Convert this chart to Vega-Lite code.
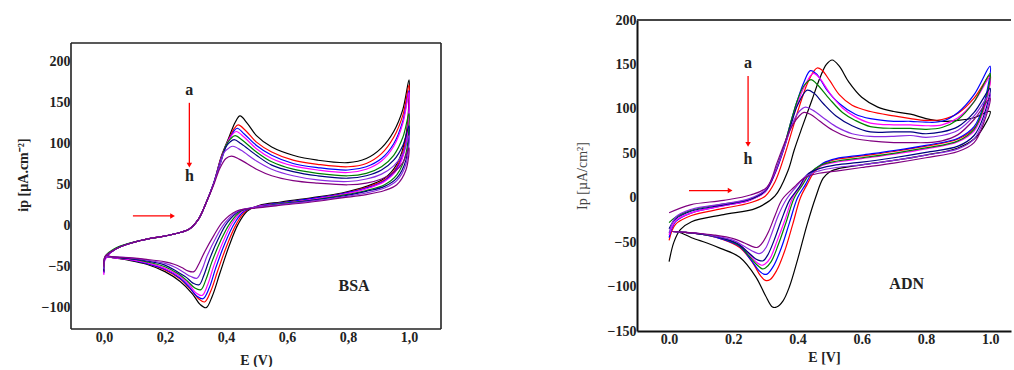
{
"$schema":"https://vega.github.io/schema/vega-lite/v6.json",
"padding":{"left":16,"top":13,"right":0,"bottom":0},
"background":"white",
"config":{"view":{"stroke":null},"font":"Liberation Serif",
"axis":{"labelFont":"Liberation Serif","labelFontWeight":"bold","labelFontSize":14,"labelColor":"#222","titleFont":"Liberation Serif","titleFontWeight":"bold","titleFontSize":14,"titleColor":"#222","grid":false,"ticks":false,"tickSize":0}},
"spacing":133,
"datasets":{
"bsa":[
{"c":"a","i":0,"x":0,"y":-57},{"c":"a","i":1,"x":0.003,"y":-40},{"c":"a","i":2,"x":0.04,"y":-28},{"c":"a","i":3,"x":0.12,"y":-18},{"c":"a","i":4,"x":0.22,"y":-11},{"c":"a","i":5,"x":0.28,"y":-4},{"c":"a","i":6,"x":0.31,"y":8},{"c":"a","i":7,"x":0.335,"y":28},{"c":"a","i":8,"x":0.36,"y":52},{"c":"a","i":9,"x":0.385,"y":85},{"c":"a","i":10,"x":0.41,"y":108},{"c":"a","i":11,"x":0.43,"y":126},{"c":"a","i":12,"x":0.446,"y":134},{"c":"a","i":13,"x":0.47,"y":125},{"c":"a","i":14,"x":0.5,"y":110},{"c":"a","i":15,"x":0.55,"y":96},{"c":"a","i":16,"x":0.62,"y":86},{"c":"a","i":17,"x":0.7,"y":80},{"c":"a","i":18,"x":0.8,"y":77},{"c":"a","i":19,"x":0.86,"y":82},{"c":"a","i":20,"x":0.91,"y":95},{"c":"a","i":21,"x":0.95,"y":115},{"c":"a","i":22,"x":0.98,"y":142},{"c":"a","i":23,"x":1.0,"y":178},{"c":"a","i":24,"x":0.99,"y":110},{"c":"a","i":25,"x":0.96,"y":75},{"c":"a","i":26,"x":0.92,"y":58},{"c":"a","i":27,"x":0.86,"y":48},{"c":"a","i":28,"x":0.78,"y":40},{"c":"a","i":29,"x":0.68,"y":34},{"c":"a","i":30,"x":0.58,"y":29},{"c":"a","i":31,"x":0.51,"y":25},{"c":"a","i":32,"x":0.47,"y":18},{"c":"a","i":33,"x":0.44,"y":2},{"c":"a","i":34,"x":0.41,"y":-25},{"c":"a","i":35,"x":0.38,"y":-58},{"c":"a","i":36,"x":0.355,"y":-86},{"c":"a","i":37,"x":0.335,"y":-100},{"c":"a","i":38,"x":0.315,"y":-96},{"c":"a","i":39,"x":0.29,"y":-83},{"c":"a","i":40,"x":0.25,"y":-68},{"c":"a","i":41,"x":0.2,"y":-56},{"c":"a","i":42,"x":0.14,"y":-47},{"c":"a","i":43,"x":0.08,"y":-42},{"c":"a","i":44,"x":0.03,"y":-39},{"c":"a","i":45,"x":0.005,"y":-37},
{"c":"b","i":0,"x":0,"y":-55},{"c":"b","i":1,"x":0.003,"y":-40},{"c":"b","i":2,"x":0.04,"y":-28},{"c":"b","i":3,"x":0.12,"y":-18},{"c":"b","i":4,"x":0.22,"y":-11},{"c":"b","i":5,"x":0.28,"y":-4},{"c":"b","i":6,"x":0.31,"y":8},{"c":"b","i":7,"x":0.335,"y":28},{"c":"b","i":8,"x":0.36,"y":52},{"c":"b","i":9,"x":0.385,"y":84},{"c":"b","i":10,"x":0.41,"y":106},{"c":"b","i":11,"x":0.428,"y":119},{"c":"b","i":12,"x":0.44,"y":123},{"c":"b","i":13,"x":0.465,"y":116},{"c":"b","i":14,"x":0.5,"y":102},{"c":"b","i":15,"x":0.55,"y":90},{"c":"b","i":16,"x":0.62,"y":80},{"c":"b","i":17,"x":0.7,"y":75},{"c":"b","i":18,"x":0.8,"y":72},{"c":"b","i":19,"x":0.86,"y":76},{"c":"b","i":20,"x":0.91,"y":88},{"c":"b","i":21,"x":0.95,"y":108},{"c":"b","i":22,"x":0.98,"y":135},{"c":"b","i":23,"x":1.0,"y":172},{"c":"b","i":24,"x":0.99,"y":106},{"c":"b","i":25,"x":0.96,"y":72},{"c":"b","i":26,"x":0.92,"y":56},{"c":"b","i":27,"x":0.86,"y":47},{"c":"b","i":28,"x":0.78,"y":39},{"c":"b","i":29,"x":0.68,"y":33},{"c":"b","i":30,"x":0.58,"y":28},{"c":"b","i":31,"x":0.51,"y":24},{"c":"b","i":32,"x":0.465,"y":18},{"c":"b","i":33,"x":0.434,"y":2},{"c":"b","i":34,"x":0.403,"y":-24},{"c":"b","i":35,"x":0.373,"y":-55},{"c":"b","i":36,"x":0.35,"y":-80},{"c":"b","i":37,"x":0.33,"y":-93},{"c":"b","i":38,"x":0.31,"y":-89},{"c":"b","i":39,"x":0.285,"y":-78},{"c":"b","i":40,"x":0.25,"y":-65},{"c":"b","i":41,"x":0.2,"y":-54},{"c":"b","i":42,"x":0.14,"y":-46},{"c":"b","i":43,"x":0.08,"y":-41},{"c":"b","i":44,"x":0.03,"y":-39},{"c":"b","i":45,"x":0.005,"y":-37},
{"c":"c","i":0,"x":0,"y":-58},{"c":"c","i":1,"x":0.003,"y":-41},{"c":"c","i":2,"x":0.04,"y":-28},{"c":"c","i":3,"x":0.12,"y":-18},{"c":"c","i":4,"x":0.22,"y":-11},{"c":"c","i":5,"x":0.28,"y":-4},{"c":"c","i":6,"x":0.31,"y":8},{"c":"c","i":7,"x":0.335,"y":28},{"c":"c","i":8,"x":0.36,"y":52},{"c":"c","i":9,"x":0.385,"y":83},{"c":"c","i":10,"x":0.41,"y":105},{"c":"c","i":11,"x":0.425,"y":115},{"c":"c","i":12,"x":0.437,"y":119},{"c":"c","i":13,"x":0.46,"y":112},{"c":"c","i":14,"x":0.5,"y":98},{"c":"c","i":15,"x":0.55,"y":86},{"c":"c","i":16,"x":0.62,"y":76},{"c":"c","i":17,"x":0.7,"y":71},{"c":"c","i":18,"x":0.8,"y":68},{"c":"c","i":19,"x":0.86,"y":72},{"c":"c","i":20,"x":0.91,"y":82},{"c":"c","i":21,"x":0.95,"y":100},{"c":"c","i":22,"x":0.98,"y":128},{"c":"c","i":23,"x":1.0,"y":165},{"c":"c","i":24,"x":0.99,"y":100},{"c":"c","i":25,"x":0.96,"y":70},{"c":"c","i":26,"x":0.92,"y":55},{"c":"c","i":27,"x":0.86,"y":46},{"c":"c","i":28,"x":0.78,"y":39},{"c":"c","i":29,"x":0.68,"y":33},{"c":"c","i":30,"x":0.58,"y":28},{"c":"c","i":31,"x":0.51,"y":24},{"c":"c","i":32,"x":0.46,"y":18},{"c":"c","i":33,"x":0.428,"y":3},{"c":"c","i":34,"x":0.396,"y":-22},{"c":"c","i":35,"x":0.366,"y":-52},{"c":"c","i":36,"x":0.345,"y":-76},{"c":"c","i":37,"x":0.325,"y":-89},{"c":"c","i":38,"x":0.305,"y":-86},{"c":"c","i":39,"x":0.28,"y":-75},{"c":"c","i":40,"x":0.25,"y":-64},{"c":"c","i":41,"x":0.2,"y":-53},{"c":"c","i":42,"x":0.14,"y":-46},{"c":"c","i":43,"x":0.08,"y":-41},{"c":"c","i":44,"x":0.03,"y":-39},{"c":"c","i":45,"x":0.005,"y":-37},
{"c":"d","i":0,"x":0,"y":-60},{"c":"d","i":1,"x":0.003,"y":-42},{"c":"d","i":2,"x":0.04,"y":-28},{"c":"d","i":3,"x":0.12,"y":-18},{"c":"d","i":4,"x":0.22,"y":-11},{"c":"d","i":5,"x":0.28,"y":-4},{"c":"d","i":6,"x":0.31,"y":8},{"c":"d","i":7,"x":0.335,"y":28},{"c":"d","i":8,"x":0.36,"y":52},{"c":"d","i":9,"x":0.385,"y":82},{"c":"d","i":10,"x":0.405,"y":102},{"c":"d","i":11,"x":0.42,"y":111},{"c":"d","i":12,"x":0.434,"y":115},{"c":"d","i":13,"x":0.46,"y":108},{"c":"d","i":14,"x":0.5,"y":94},{"c":"d","i":15,"x":0.55,"y":82},{"c":"d","i":16,"x":0.62,"y":73},{"c":"d","i":17,"x":0.7,"y":68},{"c":"d","i":18,"x":0.8,"y":65},{"c":"d","i":19,"x":0.86,"y":69},{"c":"d","i":20,"x":0.91,"y":79},{"c":"d","i":21,"x":0.95,"y":97},{"c":"d","i":22,"x":0.98,"y":125},{"c":"d","i":23,"x":1.0,"y":163},{"c":"d","i":24,"x":0.99,"y":98},{"c":"d","i":25,"x":0.96,"y":68},{"c":"d","i":26,"x":0.92,"y":54},{"c":"d","i":27,"x":0.86,"y":45},{"c":"d","i":28,"x":0.78,"y":38},{"c":"d","i":29,"x":0.68,"y":32},{"c":"d","i":30,"x":0.58,"y":27},{"c":"d","i":31,"x":0.51,"y":24},{"c":"d","i":32,"x":0.455,"y":18},{"c":"d","i":33,"x":0.42,"y":3},{"c":"d","i":34,"x":0.39,"y":-20},{"c":"d","i":35,"x":0.36,"y":-49},{"c":"d","i":36,"x":0.34,"y":-72},{"c":"d","i":37,"x":0.322,"y":-85},{"c":"d","i":38,"x":0.302,"y":-82},{"c":"d","i":39,"x":0.28,"y":-72},{"c":"d","i":40,"x":0.25,"y":-62},{"c":"d","i":41,"x":0.2,"y":-52},{"c":"d","i":42,"x":0.14,"y":-45},{"c":"d","i":43,"x":0.08,"y":-41},{"c":"d","i":44,"x":0.03,"y":-39},{"c":"d","i":45,"x":0.005,"y":-37},
{"c":"e","i":0,"x":0,"y":-52},{"c":"e","i":1,"x":0.003,"y":-38},{"c":"e","i":2,"x":0.04,"y":-27},{"c":"e","i":3,"x":0.12,"y":-18},{"c":"e","i":4,"x":0.22,"y":-11},{"c":"e","i":5,"x":0.28,"y":-4},{"c":"e","i":6,"x":0.31,"y":8},{"c":"e","i":7,"x":0.335,"y":28},{"c":"e","i":8,"x":0.36,"y":52},{"c":"e","i":9,"x":0.385,"y":81},{"c":"e","i":10,"x":0.4,"y":98},{"c":"e","i":11,"x":0.415,"y":106},{"c":"e","i":12,"x":0.43,"y":110},{"c":"e","i":13,"x":0.455,"y":104},{"c":"e","i":14,"x":0.5,"y":90},{"c":"e","i":15,"x":0.55,"y":78},{"c":"e","i":16,"x":0.62,"y":69},{"c":"e","i":17,"x":0.7,"y":64},{"c":"e","i":18,"x":0.8,"y":61},{"c":"e","i":19,"x":0.86,"y":64},{"c":"e","i":20,"x":0.91,"y":72},{"c":"e","i":21,"x":0.95,"y":86},{"c":"e","i":22,"x":0.98,"y":108},{"c":"e","i":23,"x":1.0,"y":137},{"c":"e","i":24,"x":0.99,"y":88},{"c":"e","i":25,"x":0.96,"y":62},{"c":"e","i":26,"x":0.92,"y":50},{"c":"e","i":27,"x":0.86,"y":43},{"c":"e","i":28,"x":0.78,"y":37},{"c":"e","i":29,"x":0.68,"y":31},{"c":"e","i":30,"x":0.58,"y":27},{"c":"e","i":31,"x":0.51,"y":23},{"c":"e","i":32,"x":0.45,"y":18},{"c":"e","i":33,"x":0.413,"y":3},{"c":"e","i":34,"x":0.383,"y":-18},{"c":"e","i":35,"x":0.353,"y":-45},{"c":"e","i":36,"x":0.335,"y":-65},{"c":"e","i":37,"x":0.318,"y":-78},{"c":"e","i":38,"x":0.298,"y":-76},{"c":"e","i":39,"x":0.275,"y":-68},{"c":"e","i":40,"x":0.245,"y":-59},{"c":"e","i":41,"x":0.2,"y":-50},{"c":"e","i":42,"x":0.14,"y":-44},{"c":"e","i":43,"x":0.08,"y":-40},{"c":"e","i":44,"x":0.03,"y":-38},{"c":"e","i":45,"x":0.005,"y":-37},
{"c":"f","i":0,"x":0,"y":-56},{"c":"f","i":1,"x":0.003,"y":-40},{"c":"f","i":2,"x":0.04,"y":-28},{"c":"f","i":3,"x":0.12,"y":-18},{"c":"f","i":4,"x":0.22,"y":-11},{"c":"f","i":5,"x":0.28,"y":-4},{"c":"f","i":6,"x":0.31,"y":8},{"c":"f","i":7,"x":0.335,"y":28},{"c":"f","i":8,"x":0.36,"y":52},{"c":"f","i":9,"x":0.385,"y":80},{"c":"f","i":10,"x":0.4,"y":96},{"c":"f","i":11,"x":0.413,"y":102},{"c":"f","i":12,"x":0.427,"y":105},{"c":"f","i":13,"x":0.45,"y":100},{"c":"f","i":14,"x":0.5,"y":86},{"c":"f","i":15,"x":0.55,"y":74},{"c":"f","i":16,"x":0.62,"y":66},{"c":"f","i":17,"x":0.7,"y":61},{"c":"f","i":18,"x":0.8,"y":58},{"c":"f","i":19,"x":0.86,"y":61},{"c":"f","i":20,"x":0.91,"y":68},{"c":"f","i":21,"x":0.95,"y":80},{"c":"f","i":22,"x":0.98,"y":98},{"c":"f","i":23,"x":1.0,"y":122},{"c":"f","i":24,"x":0.99,"y":80},{"c":"f","i":25,"x":0.96,"y":58},{"c":"f","i":26,"x":0.92,"y":48},{"c":"f","i":27,"x":0.86,"y":42},{"c":"f","i":28,"x":0.78,"y":36},{"c":"f","i":29,"x":0.68,"y":31},{"c":"f","i":30,"x":0.58,"y":26},{"c":"f","i":31,"x":0.51,"y":23},{"c":"f","i":32,"x":0.445,"y":18},{"c":"f","i":33,"x":0.405,"y":4},{"c":"f","i":34,"x":0.375,"y":-16},{"c":"f","i":35,"x":0.345,"y":-42},{"c":"f","i":36,"x":0.328,"y":-60},{"c":"f","i":37,"x":0.312,"y":-72},{"c":"f","i":38,"x":0.292,"y":-70},{"c":"f","i":39,"x":0.27,"y":-63},{"c":"f","i":40,"x":0.24,"y":-56},{"c":"f","i":41,"x":0.2,"y":-48},{"c":"f","i":42,"x":0.14,"y":-43},{"c":"f","i":43,"x":0.08,"y":-40},{"c":"f","i":44,"x":0.03,"y":-38},{"c":"f","i":45,"x":0.005,"y":-37},
{"c":"g","i":0,"x":0,"y":-53},{"c":"g","i":1,"x":0.003,"y":-39},{"c":"g","i":2,"x":0.04,"y":-28},{"c":"g","i":3,"x":0.12,"y":-18},{"c":"g","i":4,"x":0.22,"y":-11},{"c":"g","i":5,"x":0.28,"y":-4},{"c":"g","i":6,"x":0.31,"y":8},{"c":"g","i":7,"x":0.335,"y":28},{"c":"g","i":8,"x":0.36,"y":52},{"c":"g","i":9,"x":0.38,"y":74},{"c":"g","i":10,"x":0.395,"y":90},{"c":"g","i":11,"x":0.41,"y":95},{"c":"g","i":12,"x":0.423,"y":97},{"c":"g","i":13,"x":0.45,"y":92},{"c":"g","i":14,"x":0.5,"y":79},{"c":"g","i":15,"x":0.55,"y":69},{"c":"g","i":16,"x":0.62,"y":61},{"c":"g","i":17,"x":0.7,"y":56},{"c":"g","i":18,"x":0.8,"y":54},{"c":"g","i":19,"x":0.86,"y":57},{"c":"g","i":20,"x":0.91,"y":63},{"c":"g","i":21,"x":0.95,"y":73},{"c":"g","i":22,"x":0.98,"y":88},{"c":"g","i":23,"x":1.0,"y":110},{"c":"g","i":24,"x":0.99,"y":75},{"c":"g","i":25,"x":0.96,"y":55},{"c":"g","i":26,"x":0.92,"y":46},{"c":"g","i":27,"x":0.86,"y":40},{"c":"g","i":28,"x":0.78,"y":35},{"c":"g","i":29,"x":0.68,"y":30},{"c":"g","i":30,"x":0.58,"y":26},{"c":"g","i":31,"x":0.51,"y":23},{"c":"g","i":32,"x":0.44,"y":18},{"c":"g","i":33,"x":0.398,"y":4},{"c":"g","i":34,"x":0.368,"y":-14},{"c":"g","i":35,"x":0.338,"y":-37},{"c":"g","i":36,"x":0.322,"y":-53},{"c":"g","i":37,"x":0.305,"y":-64},{"c":"g","i":38,"x":0.285,"y":-62},{"c":"g","i":39,"x":0.262,"y":-57},{"c":"g","i":40,"x":0.235,"y":-51},{"c":"g","i":41,"x":0.2,"y":-46},{"c":"g","i":42,"x":0.14,"y":-42},{"c":"g","i":43,"x":0.08,"y":-39},{"c":"g","i":44,"x":0.03,"y":-38},{"c":"g","i":45,"x":0.005,"y":-37},
{"c":"h","i":0,"x":0,"y":-50},{"c":"h","i":1,"x":0.003,"y":-38},{"c":"h","i":2,"x":0.04,"y":-28},{"c":"h","i":3,"x":0.12,"y":-18},{"c":"h","i":4,"x":0.22,"y":-11},{"c":"h","i":5,"x":0.28,"y":-4},{"c":"h","i":6,"x":0.31,"y":8},{"c":"h","i":7,"x":0.335,"y":28},{"c":"h","i":8,"x":0.36,"y":50},{"c":"h","i":9,"x":0.38,"y":70},{"c":"h","i":10,"x":0.4,"y":82},{"c":"h","i":11,"x":0.418,"y":85},{"c":"h","i":12,"x":0.445,"y":81},{"c":"h","i":13,"x":0.5,"y":69},{"c":"h","i":14,"x":0.55,"y":61},{"c":"h","i":15,"x":0.62,"y":55},{"c":"h","i":16,"x":0.7,"y":52},{"c":"h","i":17,"x":0.8,"y":50},{"c":"h","i":18,"x":0.86,"y":52},{"c":"h","i":19,"x":0.91,"y":57},{"c":"h","i":20,"x":0.95,"y":65},{"c":"h","i":21,"x":0.98,"y":77},{"c":"h","i":22,"x":1.0,"y":95},{"c":"h","i":23,"x":0.99,"y":68},{"c":"h","i":24,"x":0.96,"y":50},{"c":"h","i":25,"x":0.92,"y":43},{"c":"h","i":26,"x":0.86,"y":38},{"c":"h","i":27,"x":0.78,"y":34},{"c":"h","i":28,"x":0.68,"y":29},{"c":"h","i":29,"x":0.58,"y":25},{"c":"h","i":30,"x":0.51,"y":22},{"c":"h","i":31,"x":0.435,"y":18},{"c":"h","i":32,"x":0.39,"y":5},{"c":"h","i":33,"x":0.36,"y":-12},{"c":"h","i":34,"x":0.33,"y":-32},{"c":"h","i":35,"x":0.312,"y":-46},{"c":"h","i":36,"x":0.295,"y":-56},{"c":"h","i":37,"x":0.275,"y":-55},{"c":"h","i":38,"x":0.255,"y":-51},{"c":"h","i":39,"x":0.23,"y":-47},{"c":"h","i":40,"x":0.2,"y":-44},{"c":"h","i":41,"x":0.14,"y":-41},{"c":"h","i":42,"x":0.08,"y":-39},{"c":"h","i":43,"x":0.03,"y":-38},{"c":"h","i":44,"x":0.005,"y":-36}
],
"adn":[
{"c":"a","i":0,"x":0,"y":-72},{"c":"a","i":1,"x":0.015,"y":-50},{"c":"a","i":2,"x":0.035,"y":-36},{"c":"a","i":3,"x":0.07,"y":-27},{"c":"a","i":4,"x":0.17,"y":-19},{"c":"a","i":5,"x":0.27,"y":-12},{"c":"a","i":6,"x":0.33,"y":2},{"c":"a","i":7,"x":0.37,"y":30},{"c":"a","i":8,"x":0.39,"y":54},{"c":"a","i":9,"x":0.415,"y":80},{"c":"a","i":10,"x":0.445,"y":110},{"c":"a","i":11,"x":0.47,"y":135},{"c":"a","i":12,"x":0.49,"y":150},{"c":"a","i":13,"x":0.508,"y":155},{"c":"a","i":14,"x":0.53,"y":148},{"c":"a","i":15,"x":0.56,"y":130},{"c":"a","i":16,"x":0.6,"y":113},{"c":"a","i":17,"x":0.65,"y":102},{"c":"a","i":18,"x":0.7,"y":97},{"c":"a","i":19,"x":0.752,"y":94},{"c":"a","i":20,"x":0.8,"y":89},{"c":"a","i":21,"x":0.85,"y":86},{"c":"a","i":22,"x":0.9,"y":87},{"c":"a","i":23,"x":0.95,"y":90},{"c":"a","i":24,"x":1.0,"y":97},{"c":"a","i":25,"x":0.98,"y":80},{"c":"a","i":26,"x":0.95,"y":66},{"c":"a","i":27,"x":0.9,"y":56},{"c":"a","i":28,"x":0.8,"y":48},{"c":"a","i":29,"x":0.7,"y":42},{"c":"a","i":30,"x":0.6,"y":37},{"c":"a","i":31,"x":0.53,"y":33},{"c":"a","i":32,"x":0.5,"y":29},{"c":"a","i":33,"x":0.48,"y":22},{"c":"a","i":34,"x":0.456,"y":0},{"c":"a","i":35,"x":0.43,"y":-30},{"c":"a","i":36,"x":0.4,"y":-70},{"c":"a","i":37,"x":0.375,"y":-100},{"c":"a","i":38,"x":0.355,"y":-116},{"c":"a","i":39,"x":0.335,"y":-123},{"c":"a","i":40,"x":0.322,"y":-123},{"c":"a","i":41,"x":0.3,"y":-110},{"c":"a","i":42,"x":0.27,"y":-89},{"c":"a","i":43,"x":0.22,"y":-67},{"c":"a","i":44,"x":0.16,"y":-57},{"c":"a","i":45,"x":0.118,"y":-51},{"c":"a","i":46,"x":0.07,"y":-45},{"c":"a","i":47,"x":0.04,"y":-40},{"c":"a","i":48,"x":0.025,"y":-38},
{"c":"b","i":0,"x":0,"y":-48},{"c":"b","i":1,"x":0.02,"y":-30},{"c":"b","i":2,"x":0.07,"y":-20},{"c":"b","i":3,"x":0.17,"y":-12},{"c":"b","i":4,"x":0.25,"y":-6},{"c":"b","i":5,"x":0.3,"y":2},{"c":"b","i":6,"x":0.33,"y":18},{"c":"b","i":7,"x":0.36,"y":48},{"c":"b","i":8,"x":0.385,"y":78},{"c":"b","i":9,"x":0.405,"y":102},{"c":"b","i":10,"x":0.43,"y":128},{"c":"b","i":11,"x":0.45,"y":142},{"c":"b","i":12,"x":0.461,"y":146},{"c":"b","i":13,"x":0.475,"y":144},{"c":"b","i":14,"x":0.5,"y":132},{"c":"b","i":15,"x":0.53,"y":116},{"c":"b","i":16,"x":0.57,"y":104},{"c":"b","i":17,"x":0.627,"y":97},{"c":"b","i":18,"x":0.7,"y":92},{"c":"b","i":19,"x":0.752,"y":89},{"c":"b","i":20,"x":0.8,"y":87},{"c":"b","i":21,"x":0.85,"y":88},{"c":"b","i":22,"x":0.9,"y":95},{"c":"b","i":23,"x":0.95,"y":112},{"c":"b","i":24,"x":1.0,"y":138},{"c":"b","i":25,"x":0.98,"y":100},{"c":"b","i":26,"x":0.95,"y":78},{"c":"b","i":27,"x":0.9,"y":66},{"c":"b","i":28,"x":0.8,"y":58},{"c":"b","i":29,"x":0.7,"y":52},{"c":"b","i":30,"x":0.6,"y":47},{"c":"b","i":31,"x":0.52,"y":43},{"c":"b","i":32,"x":0.48,"y":38},{"c":"b","i":33,"x":0.45,"y":28},{"c":"b","i":34,"x":0.43,"y":15},{"c":"b","i":35,"x":0.409,"y":0},{"c":"b","i":36,"x":0.385,"y":-30},{"c":"b","i":37,"x":0.36,"y":-60},{"c":"b","i":38,"x":0.335,"y":-82},{"c":"b","i":39,"x":0.315,"y":-92},{"c":"b","i":40,"x":0.3,"y":-93},{"c":"b","i":41,"x":0.285,"y":-88},{"c":"b","i":42,"x":0.26,"y":-73},{"c":"b","i":43,"x":0.22,"y":-56},{"c":"b","i":44,"x":0.16,"y":-46},{"c":"b","i":45,"x":0.1,"y":-41},{"c":"b","i":46,"x":0.05,"y":-39},{"c":"b","i":47,"x":0.01,"y":-38},
{"c":"c","i":0,"x":0,"y":-45},{"c":"c","i":1,"x":0.02,"y":-27},{"c":"c","i":2,"x":0.07,"y":-17},{"c":"c","i":3,"x":0.17,"y":-9},{"c":"c","i":4,"x":0.25,"y":-3},{"c":"c","i":5,"x":0.3,"y":7},{"c":"c","i":6,"x":0.33,"y":28},{"c":"c","i":7,"x":0.36,"y":60},{"c":"c","i":8,"x":0.383,"y":90},{"c":"c","i":9,"x":0.4,"y":110},{"c":"c","i":10,"x":0.42,"y":130},{"c":"c","i":11,"x":0.44,"y":143},{"c":"c","i":12,"x":0.46,"y":139},{"c":"c","i":13,"x":0.49,"y":122},{"c":"c","i":14,"x":0.53,"y":106},{"c":"c","i":15,"x":0.58,"y":94},{"c":"c","i":16,"x":0.627,"y":89},{"c":"c","i":17,"x":0.7,"y":86},{"c":"c","i":18,"x":0.752,"y":86},{"c":"c","i":19,"x":0.8,"y":85},{"c":"c","i":20,"x":0.85,"y":86},{"c":"c","i":21,"x":0.9,"y":96},{"c":"c","i":22,"x":0.95,"y":116},{"c":"c","i":23,"x":1.0,"y":148},{"c":"c","i":24,"x":0.98,"y":105},{"c":"c","i":25,"x":0.95,"y":80},{"c":"c","i":26,"x":0.9,"y":67},{"c":"c","i":27,"x":0.8,"y":59},{"c":"c","i":28,"x":0.7,"y":53},{"c":"c","i":29,"x":0.6,"y":48},{"c":"c","i":30,"x":0.52,"y":44},{"c":"c","i":31,"x":0.48,"y":39},{"c":"c","i":32,"x":0.445,"y":28},{"c":"c","i":33,"x":0.425,"y":15},{"c":"c","i":34,"x":0.4,"y":0},{"c":"c","i":35,"x":0.375,"y":-28},{"c":"c","i":36,"x":0.35,"y":-56},{"c":"c","i":37,"x":0.325,"y":-77},{"c":"c","i":38,"x":0.305,"y":-86},{"c":"c","i":39,"x":0.295,"y":-86},{"c":"c","i":40,"x":0.28,"y":-82},{"c":"c","i":41,"x":0.255,"y":-70},{"c":"c","i":42,"x":0.22,"y":-55},{"c":"c","i":43,"x":0.16,"y":-46},{"c":"c","i":44,"x":0.1,"y":-41},{"c":"c","i":45,"x":0.05,"y":-39},{"c":"c","i":46,"x":0.01,"y":-38},
{"c":"d","i":0,"x":0,"y":-42},{"c":"d","i":1,"x":0.02,"y":-26},{"c":"d","i":2,"x":0.07,"y":-17},{"c":"d","i":3,"x":0.17,"y":-9},{"c":"d","i":4,"x":0.25,"y":-3},{"c":"d","i":5,"x":0.3,"y":7},{"c":"d","i":6,"x":0.33,"y":27},{"c":"d","i":7,"x":0.36,"y":58},{"c":"d","i":8,"x":0.383,"y":88},{"c":"d","i":9,"x":0.4,"y":106},{"c":"d","i":10,"x":0.42,"y":124},{"c":"d","i":11,"x":0.449,"y":140},{"c":"d","i":12,"x":0.47,"y":134},{"c":"d","i":13,"x":0.5,"y":118},{"c":"d","i":14,"x":0.54,"y":101},{"c":"d","i":15,"x":0.58,"y":91},{"c":"d","i":16,"x":0.627,"y":84},{"c":"d","i":17,"x":0.7,"y":82},{"c":"d","i":18,"x":0.752,"y":82},{"c":"d","i":19,"x":0.8,"y":81},{"c":"d","i":20,"x":0.85,"y":82},{"c":"d","i":21,"x":0.9,"y":90},{"c":"d","i":22,"x":0.95,"y":108},{"c":"d","i":23,"x":1.0,"y":136},{"c":"d","i":24,"x":0.98,"y":98},{"c":"d","i":25,"x":0.95,"y":75},{"c":"d","i":26,"x":0.9,"y":63},{"c":"d","i":27,"x":0.8,"y":55},{"c":"d","i":28,"x":0.7,"y":49},{"c":"d","i":29,"x":0.6,"y":44},{"c":"d","i":30,"x":0.52,"y":40},{"c":"d","i":31,"x":0.475,"y":36},{"c":"d","i":32,"x":0.435,"y":27},{"c":"d","i":33,"x":0.41,"y":13},{"c":"d","i":34,"x":0.385,"y":0},{"c":"d","i":35,"x":0.36,"y":-26},{"c":"d","i":36,"x":0.335,"y":-50},{"c":"d","i":37,"x":0.315,"y":-68},{"c":"d","i":38,"x":0.298,"y":-75},{"c":"d","i":39,"x":0.288,"y":-76},{"c":"d","i":40,"x":0.273,"y":-73},{"c":"d","i":41,"x":0.25,"y":-64},{"c":"d","i":42,"x":0.22,"y":-53},{"c":"d","i":43,"x":0.16,"y":-45},{"c":"d","i":44,"x":0.1,"y":-41},{"c":"d","i":45,"x":0.05,"y":-39},{"c":"d","i":46,"x":0.01,"y":-38},
{"c":"e","i":0,"x":0,"y":-28},{"c":"e","i":1,"x":0.02,"y":-22},{"c":"e","i":2,"x":0.07,"y":-14},{"c":"e","i":3,"x":0.17,"y":-7},{"c":"e","i":4,"x":0.25,"y":-2},{"c":"e","i":5,"x":0.3,"y":8},{"c":"e","i":6,"x":0.33,"y":29},{"c":"e","i":7,"x":0.36,"y":60},{"c":"e","i":8,"x":0.383,"y":90},{"c":"e","i":9,"x":0.4,"y":110},{"c":"e","i":10,"x":0.42,"y":126},{"c":"e","i":11,"x":0.442,"y":133},{"c":"e","i":12,"x":0.46,"y":128},{"c":"e","i":13,"x":0.5,"y":111},{"c":"e","i":14,"x":0.54,"y":96},{"c":"e","i":15,"x":0.58,"y":87},{"c":"e","i":16,"x":0.627,"y":80},{"c":"e","i":17,"x":0.7,"y":78},{"c":"e","i":18,"x":0.752,"y":78},{"c":"e","i":19,"x":0.8,"y":77},{"c":"e","i":20,"x":0.85,"y":79},{"c":"e","i":21,"x":0.9,"y":88},{"c":"e","i":22,"x":0.95,"y":108},{"c":"e","i":23,"x":1.0,"y":140},{"c":"e","i":24,"x":0.98,"y":102},{"c":"e","i":25,"x":0.95,"y":77},{"c":"e","i":26,"x":0.9,"y":64},{"c":"e","i":27,"x":0.8,"y":56},{"c":"e","i":28,"x":0.7,"y":50},{"c":"e","i":29,"x":0.6,"y":45},{"c":"e","i":30,"x":0.52,"y":41},{"c":"e","i":31,"x":0.475,"y":37},{"c":"e","i":32,"x":0.44,"y":28},{"c":"e","i":33,"x":0.415,"y":14},{"c":"e","i":34,"x":0.39,"y":0},{"c":"e","i":35,"x":0.365,"y":-27},{"c":"e","i":36,"x":0.34,"y":-53},{"c":"e","i":37,"x":0.318,"y":-72},{"c":"e","i":38,"x":0.3,"y":-79},{"c":"e","i":39,"x":0.29,"y":-80},{"c":"e","i":40,"x":0.275,"y":-76},{"c":"e","i":41,"x":0.25,"y":-66},{"c":"e","i":42,"x":0.22,"y":-54},{"c":"e","i":43,"x":0.16,"y":-45},{"c":"e","i":44,"x":0.1,"y":-41},{"c":"e","i":45,"x":0.05,"y":-39},{"c":"e","i":46,"x":0.01,"y":-38},
{"c":"f","i":0,"x":0,"y":-35},{"c":"f","i":1,"x":0.02,"y":-24},{"c":"f","i":2,"x":0.07,"y":-15},{"c":"f","i":3,"x":0.17,"y":-8},{"c":"f","i":4,"x":0.25,"y":-2},{"c":"f","i":5,"x":0.3,"y":8},{"c":"f","i":6,"x":0.33,"y":28},{"c":"f","i":7,"x":0.36,"y":58},{"c":"f","i":8,"x":0.383,"y":86},{"c":"f","i":9,"x":0.4,"y":104},{"c":"f","i":10,"x":0.43,"y":121},{"c":"f","i":11,"x":0.45,"y":118},{"c":"f","i":12,"x":0.48,"y":106},{"c":"f","i":13,"x":0.52,"y":92},{"c":"f","i":14,"x":0.57,"y":81},{"c":"f","i":15,"x":0.627,"y":74},{"c":"f","i":16,"x":0.7,"y":74},{"c":"f","i":17,"x":0.752,"y":74},{"c":"f","i":18,"x":0.8,"y":72},{"c":"f","i":19,"x":0.85,"y":74},{"c":"f","i":20,"x":0.9,"y":80},{"c":"f","i":21,"x":0.95,"y":96},{"c":"f","i":22,"x":1.0,"y":123},{"c":"f","i":23,"x":0.98,"y":92},{"c":"f","i":24,"x":0.95,"y":70},{"c":"f","i":25,"x":0.9,"y":58},{"c":"f","i":26,"x":0.8,"y":51},{"c":"f","i":27,"x":0.7,"y":45},{"c":"f","i":28,"x":0.6,"y":40},{"c":"f","i":29,"x":0.52,"y":37},{"c":"f","i":30,"x":0.47,"y":33},{"c":"f","i":31,"x":0.43,"y":26},{"c":"f","i":32,"x":0.405,"y":12},{"c":"f","i":33,"x":0.375,"y":-3},{"c":"f","i":34,"x":0.35,"y":-25},{"c":"f","i":35,"x":0.327,"y":-48},{"c":"f","i":36,"x":0.308,"y":-64},{"c":"f","i":37,"x":0.293,"y":-71},{"c":"f","i":38,"x":0.285,"y":-71},{"c":"f","i":39,"x":0.27,"y":-69},{"c":"f","i":40,"x":0.245,"y":-61},{"c":"f","i":41,"x":0.21,"y":-51},{"c":"f","i":42,"x":0.15,"y":-44},{"c":"f","i":43,"x":0.1,"y":-41},{"c":"f","i":44,"x":0.05,"y":-39},{"c":"f","i":45,"x":0.01,"y":-38},
{"c":"g","i":0,"x":0,"y":-40},{"c":"g","i":1,"x":0.02,"y":-22},{"c":"g","i":2,"x":0.07,"y":-13},{"c":"g","i":3,"x":0.17,"y":-7},{"c":"g","i":4,"x":0.25,"y":-1},{"c":"g","i":5,"x":0.3,"y":9},{"c":"g","i":6,"x":0.33,"y":29},{"c":"g","i":7,"x":0.36,"y":58},{"c":"g","i":8,"x":0.385,"y":84},{"c":"g","i":9,"x":0.405,"y":97},{"c":"g","i":10,"x":0.425,"y":102},{"c":"g","i":11,"x":0.45,"y":98},{"c":"g","i":12,"x":0.48,"y":90},{"c":"g","i":13,"x":0.52,"y":80},{"c":"g","i":14,"x":0.57,"y":72},{"c":"g","i":15,"x":0.627,"y":69},{"c":"g","i":16,"x":0.7,"y":69},{"c":"g","i":17,"x":0.752,"y":70},{"c":"g","i":18,"x":0.8,"y":68},{"c":"g","i":19,"x":0.85,"y":70},{"c":"g","i":20,"x":0.9,"y":76},{"c":"g","i":21,"x":0.95,"y":92},{"c":"g","i":22,"x":1.0,"y":117},{"c":"g","i":23,"x":0.98,"y":88},{"c":"g","i":24,"x":0.95,"y":66},{"c":"g","i":25,"x":0.9,"y":55},{"c":"g","i":26,"x":0.8,"y":48},{"c":"g","i":27,"x":0.7,"y":42},{"c":"g","i":28,"x":0.6,"y":37},{"c":"g","i":29,"x":0.52,"y":34},{"c":"g","i":30,"x":0.465,"y":30},{"c":"g","i":31,"x":0.425,"y":24},{"c":"g","i":32,"x":0.395,"y":12},{"c":"g","i":33,"x":0.365,"y":-2},{"c":"g","i":34,"x":0.34,"y":-20},{"c":"g","i":35,"x":0.32,"y":-40},{"c":"g","i":36,"x":0.302,"y":-56},{"c":"g","i":37,"x":0.288,"y":-62},{"c":"g","i":38,"x":0.28,"y":-63},{"c":"g","i":39,"x":0.265,"y":-61},{"c":"g","i":40,"x":0.24,"y":-56},{"c":"g","i":41,"x":0.2,"y":-48},{"c":"g","i":42,"x":0.14,"y":-43},{"c":"g","i":43,"x":0.09,"y":-40},{"c":"g","i":44,"x":0.05,"y":-39},{"c":"g","i":45,"x":0.01,"y":-38},
{"c":"h","i":0,"x":0,"y":-17},{"c":"h","i":1,"x":0.066,"y":-8},{"c":"h","i":2,"x":0.17,"y":-3},{"c":"h","i":3,"x":0.253,"y":3},{"c":"h","i":4,"x":0.305,"y":12},{"c":"h","i":5,"x":0.336,"y":39},{"c":"h","i":6,"x":0.36,"y":62},{"c":"h","i":7,"x":0.385,"y":82},{"c":"h","i":8,"x":0.405,"y":92},{"c":"h","i":9,"x":0.42,"y":96},{"c":"h","i":10,"x":0.44,"y":94},{"c":"h","i":11,"x":0.47,"y":86},{"c":"h","i":12,"x":0.51,"y":76},{"c":"h","i":13,"x":0.56,"y":68},{"c":"h","i":14,"x":0.627,"y":64},{"c":"h","i":15,"x":0.7,"y":62},{"c":"h","i":16,"x":0.752,"y":62},{"c":"h","i":17,"x":0.8,"y":62},{"c":"h","i":18,"x":0.85,"y":64},{"c":"h","i":19,"x":0.9,"y":71},{"c":"h","i":20,"x":0.95,"y":88},{"c":"h","i":21,"x":1.0,"y":112},{"c":"h","i":22,"x":0.98,"y":84},{"c":"h","i":23,"x":0.95,"y":62},{"c":"h","i":24,"x":0.9,"y":52},{"c":"h","i":25,"x":0.8,"y":45},{"c":"h","i":26,"x":0.7,"y":39},{"c":"h","i":27,"x":0.6,"y":34},{"c":"h","i":28,"x":0.52,"y":30},{"c":"h","i":29,"x":0.46,"y":27},{"c":"h","i":30,"x":0.42,"y":22},{"c":"h","i":31,"x":0.39,"y":12},{"c":"h","i":32,"x":0.352,"y":-2},{"c":"h","i":33,"x":0.33,"y":-20},{"c":"h","i":34,"x":0.31,"y":-38},{"c":"h","i":35,"x":0.292,"y":-50},{"c":"h","i":36,"x":0.28,"y":-55},{"c":"h","i":37,"x":0.273,"y":-56},{"c":"h","i":38,"x":0.26,"y":-55},{"c":"h","i":39,"x":0.235,"y":-51},{"c":"h","i":40,"x":0.2,"y":-46},{"c":"h","i":41,"x":0.14,"y":-42},{"c":"h","i":42,"x":0.09,"y":-40},{"c":"h","i":43,"x":0.05,"y":-39},{"c":"h","i":44,"x":0.01,"y":-38}
],
"one":[{}],
"bsaText":[{"t":"a","x":0.28,"y":166},{"t":"h","x":0.28,"y":61},{"t":"BSA","x":0.82,"y":-74}],
"bsaArrow":[{"x":0.28,"y":150,"x2":0.28,"y2":76},{"x":0.095,"y":12,"x2":0.225,"y2":12}],
"bsaHead":[{"x":0.28,"y":74,"s":"triangle-down"},{"x":0.225,"y":12,"s":"triangle-right"}],
"adnText":[{"t":"a","x":0.246,"y":152},{"t":"h","x":0.246,"y":44},{"t":"ADN","x":0.74,"y":-97}],
"adnArrow":[{"x":0.246,"y":137,"x2":0.246,"y2":62},{"x":0.062,"y":8,"x2":0.19,"y2":8}],
"adnHead":[{"x":0.246,"y":60,"s":"triangle-down"},{"x":0.19,"y":8,"s":"triangle-right"}]
},
"hconcat":[
{
"width":370,"height":309,
"layer":[
{"data":{"name":"bsa"},"mark":{"type":"line","strokeWidth":1.2,"interpolate":"catmull-rom"},
"encoding":{
"x":{"field":"x","type":"quantitative","scale":{"domain":[-0.108,1.105],"nice":false,"zero":false},
"axis":{"values":[0,0.2,0.4,0.6,0.8,1.0],"labelExpr":"replace(format(datum.value,'.1f'),'.',',')","title":"E (V)","domain":false,"labelPadding":1,"titlePadding":9}},
"y":{"field":"y","type":"quantitative","scale":{"domain":[-126,251.07],"nice":false,"zero":false},
"axis":{"values":[-100,-50,0,50,100,150,200],"title":"ip [µA.cm⁻²]","domain":false,"labelPadding":1,"titleX":-41}},
"color":{"field":"c","type":"nominal","legend":null,"scale":{"domain":["a","b","c","d","e","f","g","h"],"range":["#000000","#ff0000","#0000ff","#ff00ff","#008000","#000080","#8a2be2","#800080"]}},"order":{"field":"i","type":"quantitative"}}},
{"data":{"name":"one"},"mark":{"type":"rule","color":"#222","strokeWidth":1.6},"encoding":{"x":{"datum":-0.108,"type":"quantitative"},"x2":{"datum":1.105},"y":{"datum":223,"type":"quantitative"}}},
{"data":{"name":"one"},"mark":{"type":"rule","color":"#222","strokeWidth":1.6},"encoding":{"x":{"datum":-0.108,"type":"quantitative"},"x2":{"datum":1.105},"y":{"datum":-126,"type":"quantitative"}}},
{"data":{"name":"one"},"mark":{"type":"rule","color":"#222","strokeWidth":1.6},"encoding":{"x":{"datum":-0.108,"type":"quantitative"},"y":{"datum":-126,"type":"quantitative"},"y2":{"datum":223}}},
{"data":{"name":"one"},"mark":{"type":"rule","color":"#222","strokeWidth":1.6},"encoding":{"x":{"datum":1.105,"type":"quantitative"},"y":{"datum":-126,"type":"quantitative"},"y2":{"datum":223}}},
{"data":{"name":"bsaArrow"},"mark":{"type":"rule","color":"#ff0000","strokeWidth":1.3},"encoding":{"x":{"field":"x","type":"quantitative"},"y":{"field":"y","type":"quantitative"},"x2":{"field":"x2"},"y2":{"field":"y2"}}},
{"data":{"name":"bsaHead"},"mark":{"type":"point","filled":true,"color":"#ff0000","size":30,"opacity":1},"encoding":{"x":{"field":"x","type":"quantitative"},"y":{"field":"y","type":"quantitative"},"shape":{"field":"s","type":"nominal","scale":null}}},
{"data":{"name":"bsaText"},"mark":{"type":"text","font":"Liberation Serif","fontWeight":"bold","fontSize":16,"color":"#222","baseline":"middle"},"encoding":{"x":{"field":"x","type":"quantitative"},"y":{"field":"y","type":"quantitative"},"text":{"field":"t"}}}
]
},
{
"width":374,"height":311,
"layer":[
{"data":{"name":"adn"},"mark":{"type":"line","strokeWidth":1.2,"interpolate":"catmull-rom"},
"encoding":{
"x":{"field":"x","type":"quantitative","scale":{"domain":[-0.1,1.065],"nice":false,"zero":false},
"axis":{"values":[0,0.2,0.4,0.6,0.8,1.0],"format":".1f","title":"E [V]","domain":true,"domainColor":"#111","domainWidth":2,"labelPadding":1,"titlePadding":4}},
"y":{"field":"y","type":"quantitative","scale":{"domain":[-150,200],"nice":false,"zero":false},
"axis":{"values":[-150,-100,-50,0,50,100,150,200],"title":"Ip [µA/cm²]","titleFontWeight":"normal","titleColor":"#444","titleFontSize":14,"domain":true,"domainColor":"#111","domainWidth":2,"labelPadding":1,"titleX":-48}},
"color":{"field":"c","type":"nominal","legend":null,"scale":{"domain":["a","b","c","d","e","f","g","h"],"range":["#000000","#ff0000","#ff00ff","#0000ff","#008000","#000080","#8a2be2","#800080"]}},"order":{"field":"i","type":"quantitative"}}},
{"data":{"name":"one"},"mark":{"type":"rule","color":"#444","strokeWidth":2},"encoding":{"x":{"datum":-0.1,"type":"quantitative"},"x2":{"datum":1.065},"y":{"datum":200,"type":"quantitative"}}},
{"data":{"name":"adnArrow"},"mark":{"type":"rule","color":"#ff0000","strokeWidth":1.3},"encoding":{"x":{"field":"x","type":"quantitative"},"y":{"field":"y","type":"quantitative"},"x2":{"field":"x2"},"y2":{"field":"y2"}}},
{"data":{"name":"adnHead"},"mark":{"type":"point","filled":true,"color":"#ff0000","size":30,"opacity":1},"encoding":{"x":{"field":"x","type":"quantitative"},"y":{"field":"y","type":"quantitative"},"shape":{"field":"s","type":"nominal","scale":null}}},
{"data":{"name":"adnText"},"mark":{"type":"text","font":"Liberation Serif","fontWeight":"bold","fontSize":16,"color":"#222","baseline":"middle"},"encoding":{"x":{"field":"x","type":"quantitative"},"y":{"field":"y","type":"quantitative"},"text":{"field":"t"}}}
]
}
]
}
